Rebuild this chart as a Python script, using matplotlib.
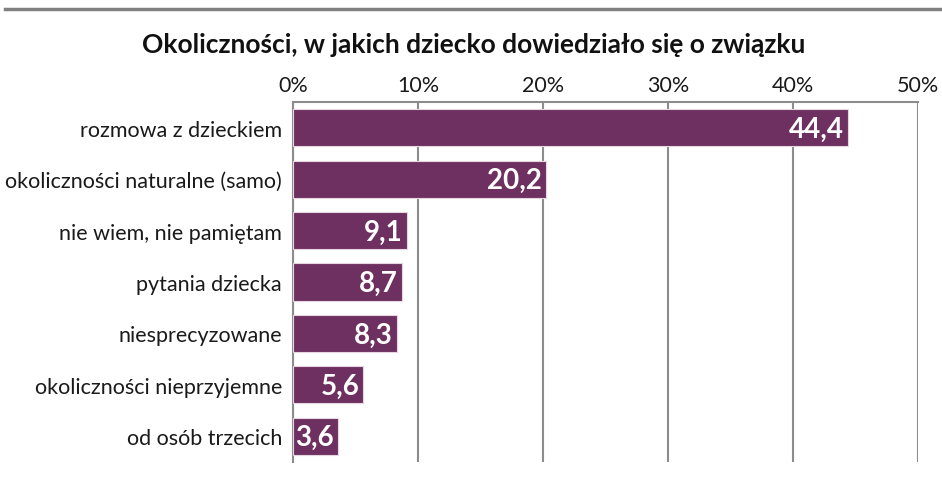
import matplotlib
matplotlib.use("Agg")
import matplotlib.pyplot as plt
from matplotlib.lines import Line2D

plt.rcParams['font.family'] = ['Lato', 'DejaVu Sans']

categories = [
    "rozmowa z dzieckiem",
    "okoliczności naturalne (samo)",
    "nie wiem, nie pamiętam",
    "pytania dziecka",
    "niesprecyzowane",
    "okoliczności nieprzyjemne",
    "od osób trzecich",
]
values = [44.4, 20.2, 9.1, 8.7, 8.3, 5.6, 3.6]
tick_values = [0, 10, 20, 30, 40, 50]
tick_labels = ["0%", "10%", "20%", "30%", "40%", "50%"]
title = "Okoliczności, w jakich dziecko dowiedziało się o związku"

bar_color = "#6D3060"
grid_color = "#8C8C8C"

fig = plt.figure(figsize=(9.42, 4.85), dpi=100)
ax = fig.add_axes([293 / 942, 1 - 463 / 485, (918 - 293) / 942, (463 - 103) / 485])

y = list(range(len(categories)))
ax.barh(y, values, height=0.72, color=bar_color, edgecolor="#E8D5E2", linewidth=0.8, zorder=3)

for yi, v in zip(y, values):
    ax.text(v - 0.3, yi + 0.02, f"{v:.1f}".replace(".", ","), ha="right", va="center",
            color="white", fontsize=20, fontweight="bold", zorder=4)

ax.set_xlim(0, 50)
ax.set_ylim(len(categories) - 0.5, -0.5)
ax.set_xticks(tick_values)
ax.set_xticklabels(tick_labels)
ax.xaxis.tick_top()
ax.tick_params(axis="x", length=0, pad=5, labelsize=15.5, colors="#1a1a1a")
ax.set_yticks(y)
ax.set_yticklabels(categories)
ax.tick_params(axis="y", length=0, pad=8, labelsize=15.5, colors="#1a1a1a")

ax.grid(axis="x", color=grid_color, linewidth=1.5, zorder=0)
ax.grid(axis="y", visible=False)
for side in ["right", "bottom"]:
    ax.spines[side].set_visible(False)
ax.spines["top"].set_color(grid_color)
ax.spines["top"].set_linewidth(1.5)
ax.spines["left"].set_color(grid_color)
ax.spines["left"].set_linewidth(1.5)

fig.text(0.5 + 3 / 942, 1 - 45 / 485, title, ha="center", va="center", fontsize=19, fontweight="bold", color="#111111")
fig.add_artist(Line2D([5 / 942, 1.0], [1 - 10 / 485] * 2, color="#808080", linewidth=2.5, transform=fig.transFigure))

fig.savefig("out.png", dpi=100)
